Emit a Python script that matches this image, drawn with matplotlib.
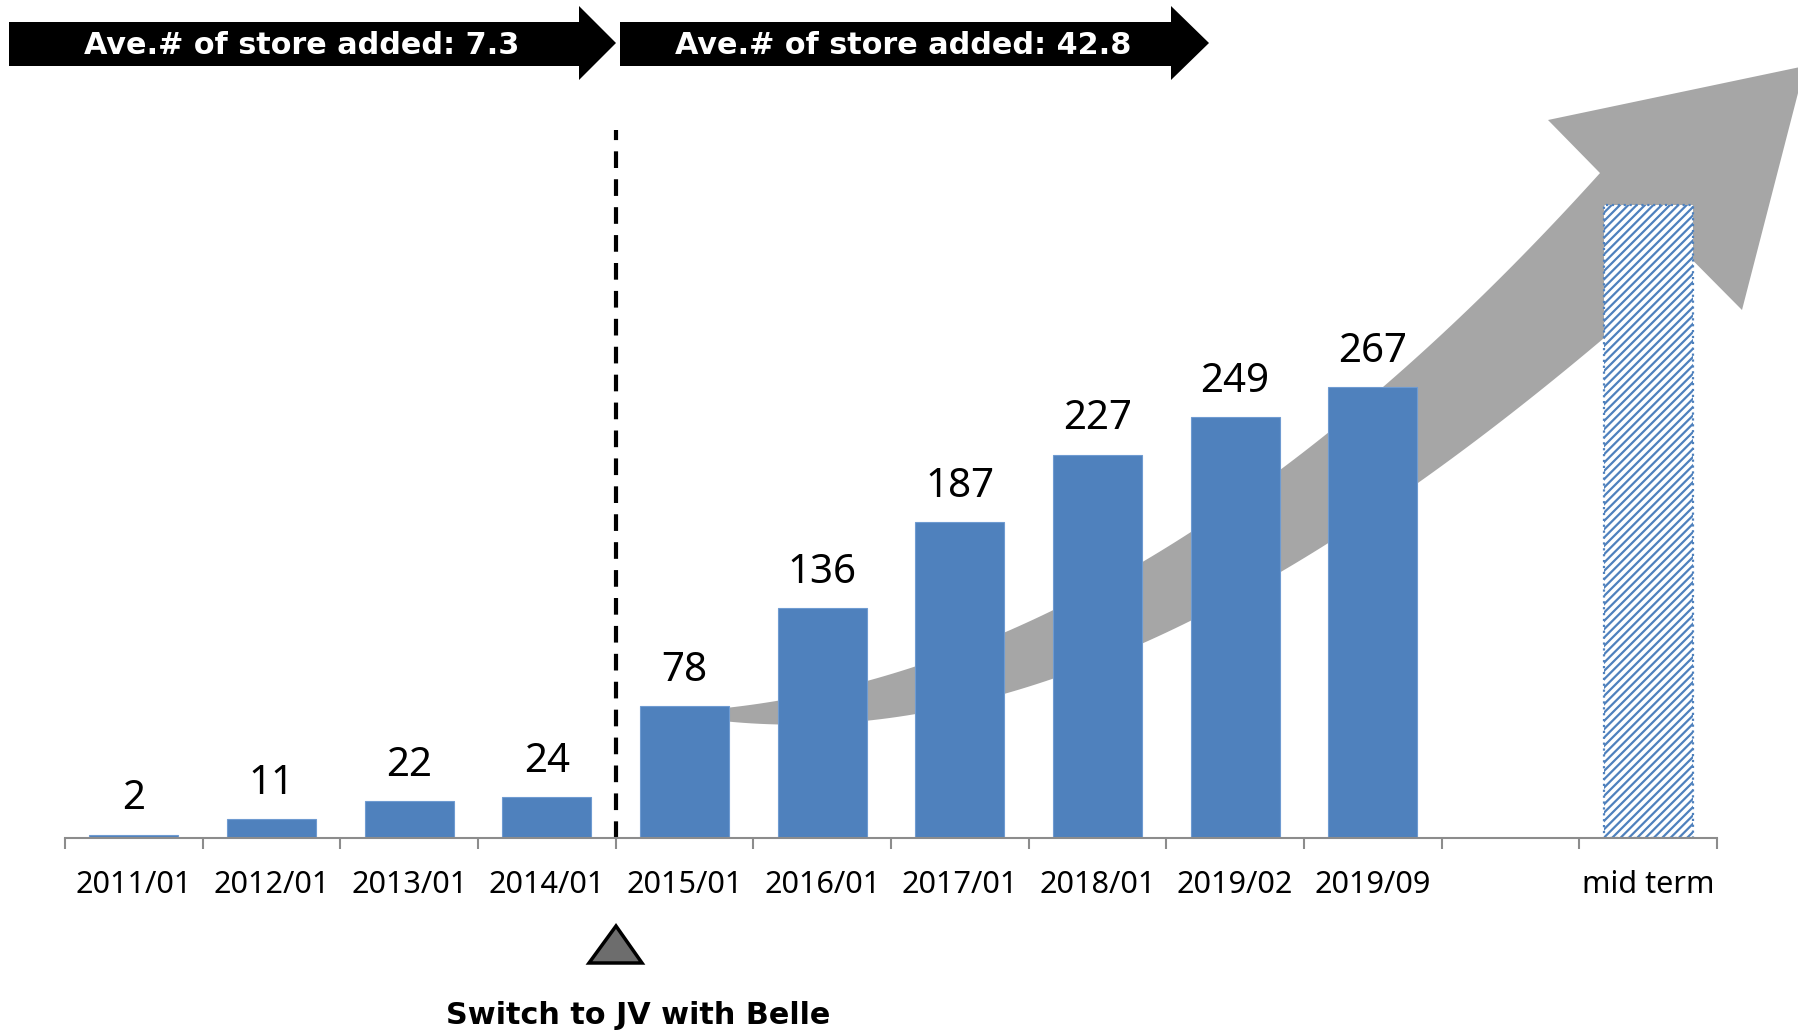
import matplotlib.pyplot as plt
import numpy as np
from matplotlib.patches import Polygon

plt.rcParams["font.family"] = ["Noto Sans", "DejaVu Sans"]
plt.rcParams["hatch.linewidth"] = 1.6
plt.rcParams["hatch.color"] = "#4F81BD"

# store counts by period
periods = ["2011/01", "2012/01", "2013/01", "2014/01", "2015/01",
           "2016/01", "2017/01", "2018/01", "2019/02", "2019/09"]
stores = [2, 11, 22, 24, 78, 136, 187, 227, 249, 267]
target_label = "mid term"
target_stores = 375

avg_before = 7.3
avg_after = 42.8

W, H = 1798, 1030
fig = plt.figure(figsize=(W / 100, H / 100), dpi=100, facecolor="w")

# pixel-space layer behind the bars, for the growth arrow
bg = fig.add_axes([0, 0, 1, 1], zorder=0)
bg.set_xlim(0, W)
bg.set_ylim(H, 0)
bg.axis("off")

# shaft edges, smoothed with a cubic fit
up_x = [665, 730, 778, 867, 917, 1005, 1053, 1143, 1192, 1280, 1328, 1383, 1418, 1600]
up_y = [712, 707, 701, 682, 667, 632, 610, 560, 532, 468, 432, 387, 360, 172]
lo_x = [665, 730, 778, 867, 917, 1005, 1053, 1143, 1192, 1280, 1328, 1418, 1513, 1603, 1693]
lo_y = [716, 719, 723, 720, 713, 693, 678, 647, 623, 572, 543, 482, 410, 337, 263]

xs_up = np.linspace(665, 1600, 120)
ys_up = np.polyval(np.polyfit(up_x, up_y, 3), xs_up)
xs_lo = np.linspace(1693, 665, 120)
ys_lo = np.polyval(np.polyfit(lo_x, lo_y, 3), xs_lo)
ys_up[0], ys_lo[-1] = 712, 716

head = [(1548, 120), (1805, 66), (1742, 310)]
outline = list(zip(xs_up, ys_up)) + head + list(zip(xs_lo, ys_lo))
bg.add_patch(Polygon(outline, closed=True, fc="#A6A6A6", ec="none"))

# bar chart
ax_bottom = (H - 838) / H
ax = fig.add_axes([65 / W, ax_bottom, (1717 - 65) / W, 760 / H], zorder=1)
ax.patch.set_visible(False)

n_slots = len(periods) + 2
x = np.arange(len(periods))
x_target = n_slots - 1
bw = 0.645

ax.bar(x, stores, width=bw, color="#4F81BD", edgecolor="#6F9BD1", linewidth=0.8)
ax.bar([x_target], [target_stores], width=bw, color="w", edgecolor="#4F81BD",
       hatch="////", linestyle=":", linewidth=1.6)

for xi, v in zip(x, stores):
    ax.text(xi, v + 15, str(v), ha="center", va="baseline", fontsize=29)

ax.set_xlim(-0.5, n_slots - 0.5)
ax.set_ylim(0, 450)

ax.set_xticks(np.arange(n_slots + 1) - 0.5, labels=[])
ax.set_xticks(list(x) + [x_target], labels=periods + [target_label], minor=True)
ax.tick_params(axis="x", which="major", length=8, width=1.5, color="#8C8C8C")
ax.tick_params(axis="x", which="minor", length=0, pad=23, labelsize=22)
ax.set_yticks([])
for side in ["top", "right", "left"]:
    ax.spines[side].set_visible(False)
ax.spines["bottom"].set_color("#8C8C8C")
ax.spines["bottom"].set_linewidth(1.5)

# JV switch marker
ax.axvline(3.5, ymin=0, ymax=(838 - 130) / 760, color="k", lw=3,
           dashes=(4, 2.7), clip_on=False)

# annotation layer on top
fg = fig.add_axes([0, 0, 1, 1], zorder=2)
fg.set_xlim(0, W)
fg.set_ylim(H, 0)
fg.axis("off")
fg.patch.set_visible(False)

bold = dict(family="DejaVu Sans", fontweight="bold", fontsize=21.8)


def banner(x0, x1, tip, text):
    pts = [(x0, 22), (x1, 22), (x1, 6), (tip, 43), (x1, 80), (x1, 66), (x0, 66)]
    fg.add_patch(Polygon(pts, closed=True, fc="k", ec="none"))
    fg.text((x0 + x1) / 2 + 8, 45, text, color="w", ha="center", va="center", **bold)


banner(9, 579, 616, f"Ave.# of store added: {avg_before}")
banner(620, 1171, 1209, f"Ave.# of store added: {avg_after}")

fg.add_patch(Polygon([(589, 963), (616, 926), (642, 963)], closed=True,
                     fc="#6D6D6D", ec="k", lw=2.5))
fg.text(638, 1016, "Switch to JV with Belle", ha="center", va="center", **bold)

fig.savefig("out.png", dpi=100, facecolor="w")
